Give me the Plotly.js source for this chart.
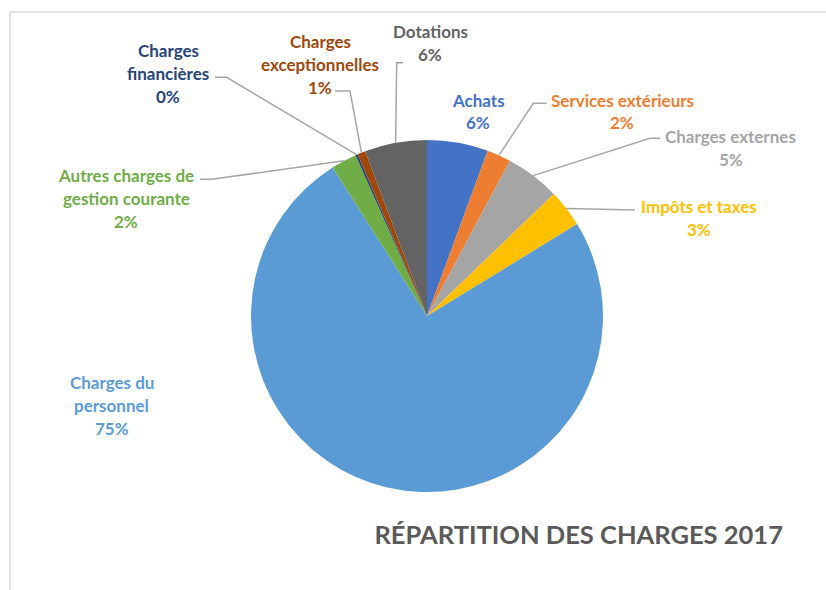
<!DOCTYPE html>
<html>
<head>
<meta charset="utf-8">
<script src="https://cdn.plot.ly/plotly-3.0.1.min.js"></script>
<style>html,body{margin:0;padding:0;background:#fff;}#chart{width:826px;height:590px;}</style>
</head>
<body>
<div id="chart"></div>
<script>
// ---- data ----
const categories = ["Achats", "Services extérieurs", "Charges externes", "Impôts et taxes",
  "Charges du personnel", "Autres charges de gestion courante", "Charges financières",
  "Charges exceptionnelles", "Dotations"];
const values = [5.6, 2.2, 5.0, 3.45, 74.7, 2.35, 0.2, 0.75, 5.7];
const colors = ["#4472C4", "#ED7D31", "#A5A5A5", "#FFC000", "#5B9BD5", "#70AD47", "#264478", "#9E480E", "#636363"];
const chartTitle = "RÉPARTITION DES CHARGES 2017";

// ---- layout config (pixels) ----
const W = 826, H = 590;
const CX = 427, CY = 316, R = 176;
const labelWrap = [
  ["Achats"], ["Services extérieurs"], ["Charges externes"], ["Impôts et taxes"],
  ["Charges du", "personnel"], ["Autres charges de", "gestion courante"],
  ["Charges", "financières"], ["Charges", "exceptionnelles"], ["Dotations"]
];
const labelCenter = [[478, 100], [622, 100], [730.5, 136], [699, 206], [111.5, 382.5],
  [126.5, 175], [168.3, 50], [320, 41.7], [430, 31.7]];
const lineGap = 23;
const leaderStart = [null, [[546.7, 103.3], [533.3, 103.3]], [[660, 138.3], [650, 138.3]],
  [[635, 210]], null, [[200, 179.3], [211.7, 179.3]], [[215, 77.3], [226.7, 77.3]],
  [[335, 91], [350, 91]], [[403, 62.7], [396.7, 62.7]]];

const px = x => x / W;
const py = y => 1 - y / H;

const total = values.reduce((a, b) => a + b, 0);
const annotations = [];
const shapes = [];
let cum = 0;
values.forEach((v, i) => {
  const mid = (cum + v / 2) / total;
  cum += v;
  const th = mid * 2 * Math.PI;
  const ex = CX + R * Math.sin(th), ey = CY - R * Math.cos(th);
  const lines = labelWrap[i].concat([Math.round(v / total * 100) + "%"]);
  lines.forEach((t, k) => {
    annotations.push({
      xref: "paper", yref: "paper", x: px(labelCenter[i][0]), y: py(labelCenter[i][1] + k * lineGap),
      xanchor: "center", yanchor: "middle", showarrow: false, text: "<b>" + t + "</b>",
      font: {family: "Lato, 'Open Sans', sans-serif", size: 17, color: colors[i]}
    });
  });
  if (leaderStart[i]) {
    const pts = leaderStart[i].concat([[ex, ey]]);
    const path = pts.map((p, k) => (k ? "L" : "M") + px(p[0]) + "," + py(p[1])).join(" ");
    shapes.push({type: "path", xref: "paper", yref: "paper", path: path,
      line: {color: "#A6A6A6", width: 1.5}});
  }
});

// frame
shapes.push({type: "line", xref: "paper", yref: "paper", x0: px(10), y0: py(12), x1: px(830), y1: py(12), line: {color: "#D9D9D9", width: 1.5}});
shapes.push({type: "line", xref: "paper", yref: "paper", x0: px(10), y0: py(12), x1: px(10), y1: py(600), line: {color: "#D9D9D9", width: 1.5}});

const trace = {
  type: "pie", labels: categories, values: values, sort: false, direction: "clockwise",
  rotation: 0, textinfo: "none", hoverinfo: "skip",
  marker: {colors: colors, line: {width: 0}},
  domain: {x: [px(CX - R), px(CX + R)], y: [py(CY + R), py(CY - R)]},
  showlegend: false
};

const layout = {
  width: W, height: H, margin: {l: 0, r: 0, t: 0, b: 0},
  paper_bgcolor: "#ffffff",
  title: {text: "<b>" + chartTitle + "</b>", x: px(578.7), xanchor: "center", xref: "paper",
    y: py(535), yanchor: "middle", yref: "paper",
    font: {family: "Lato, 'Open Sans', sans-serif", size: 25.5, color: "#595959"}},
  annotations: annotations, shapes: shapes, showlegend: false
};

Plotly.newPlot("chart", [trace], layout, {displayModeBar: false, staticPlot: true});
</script>
</body>
</html>
